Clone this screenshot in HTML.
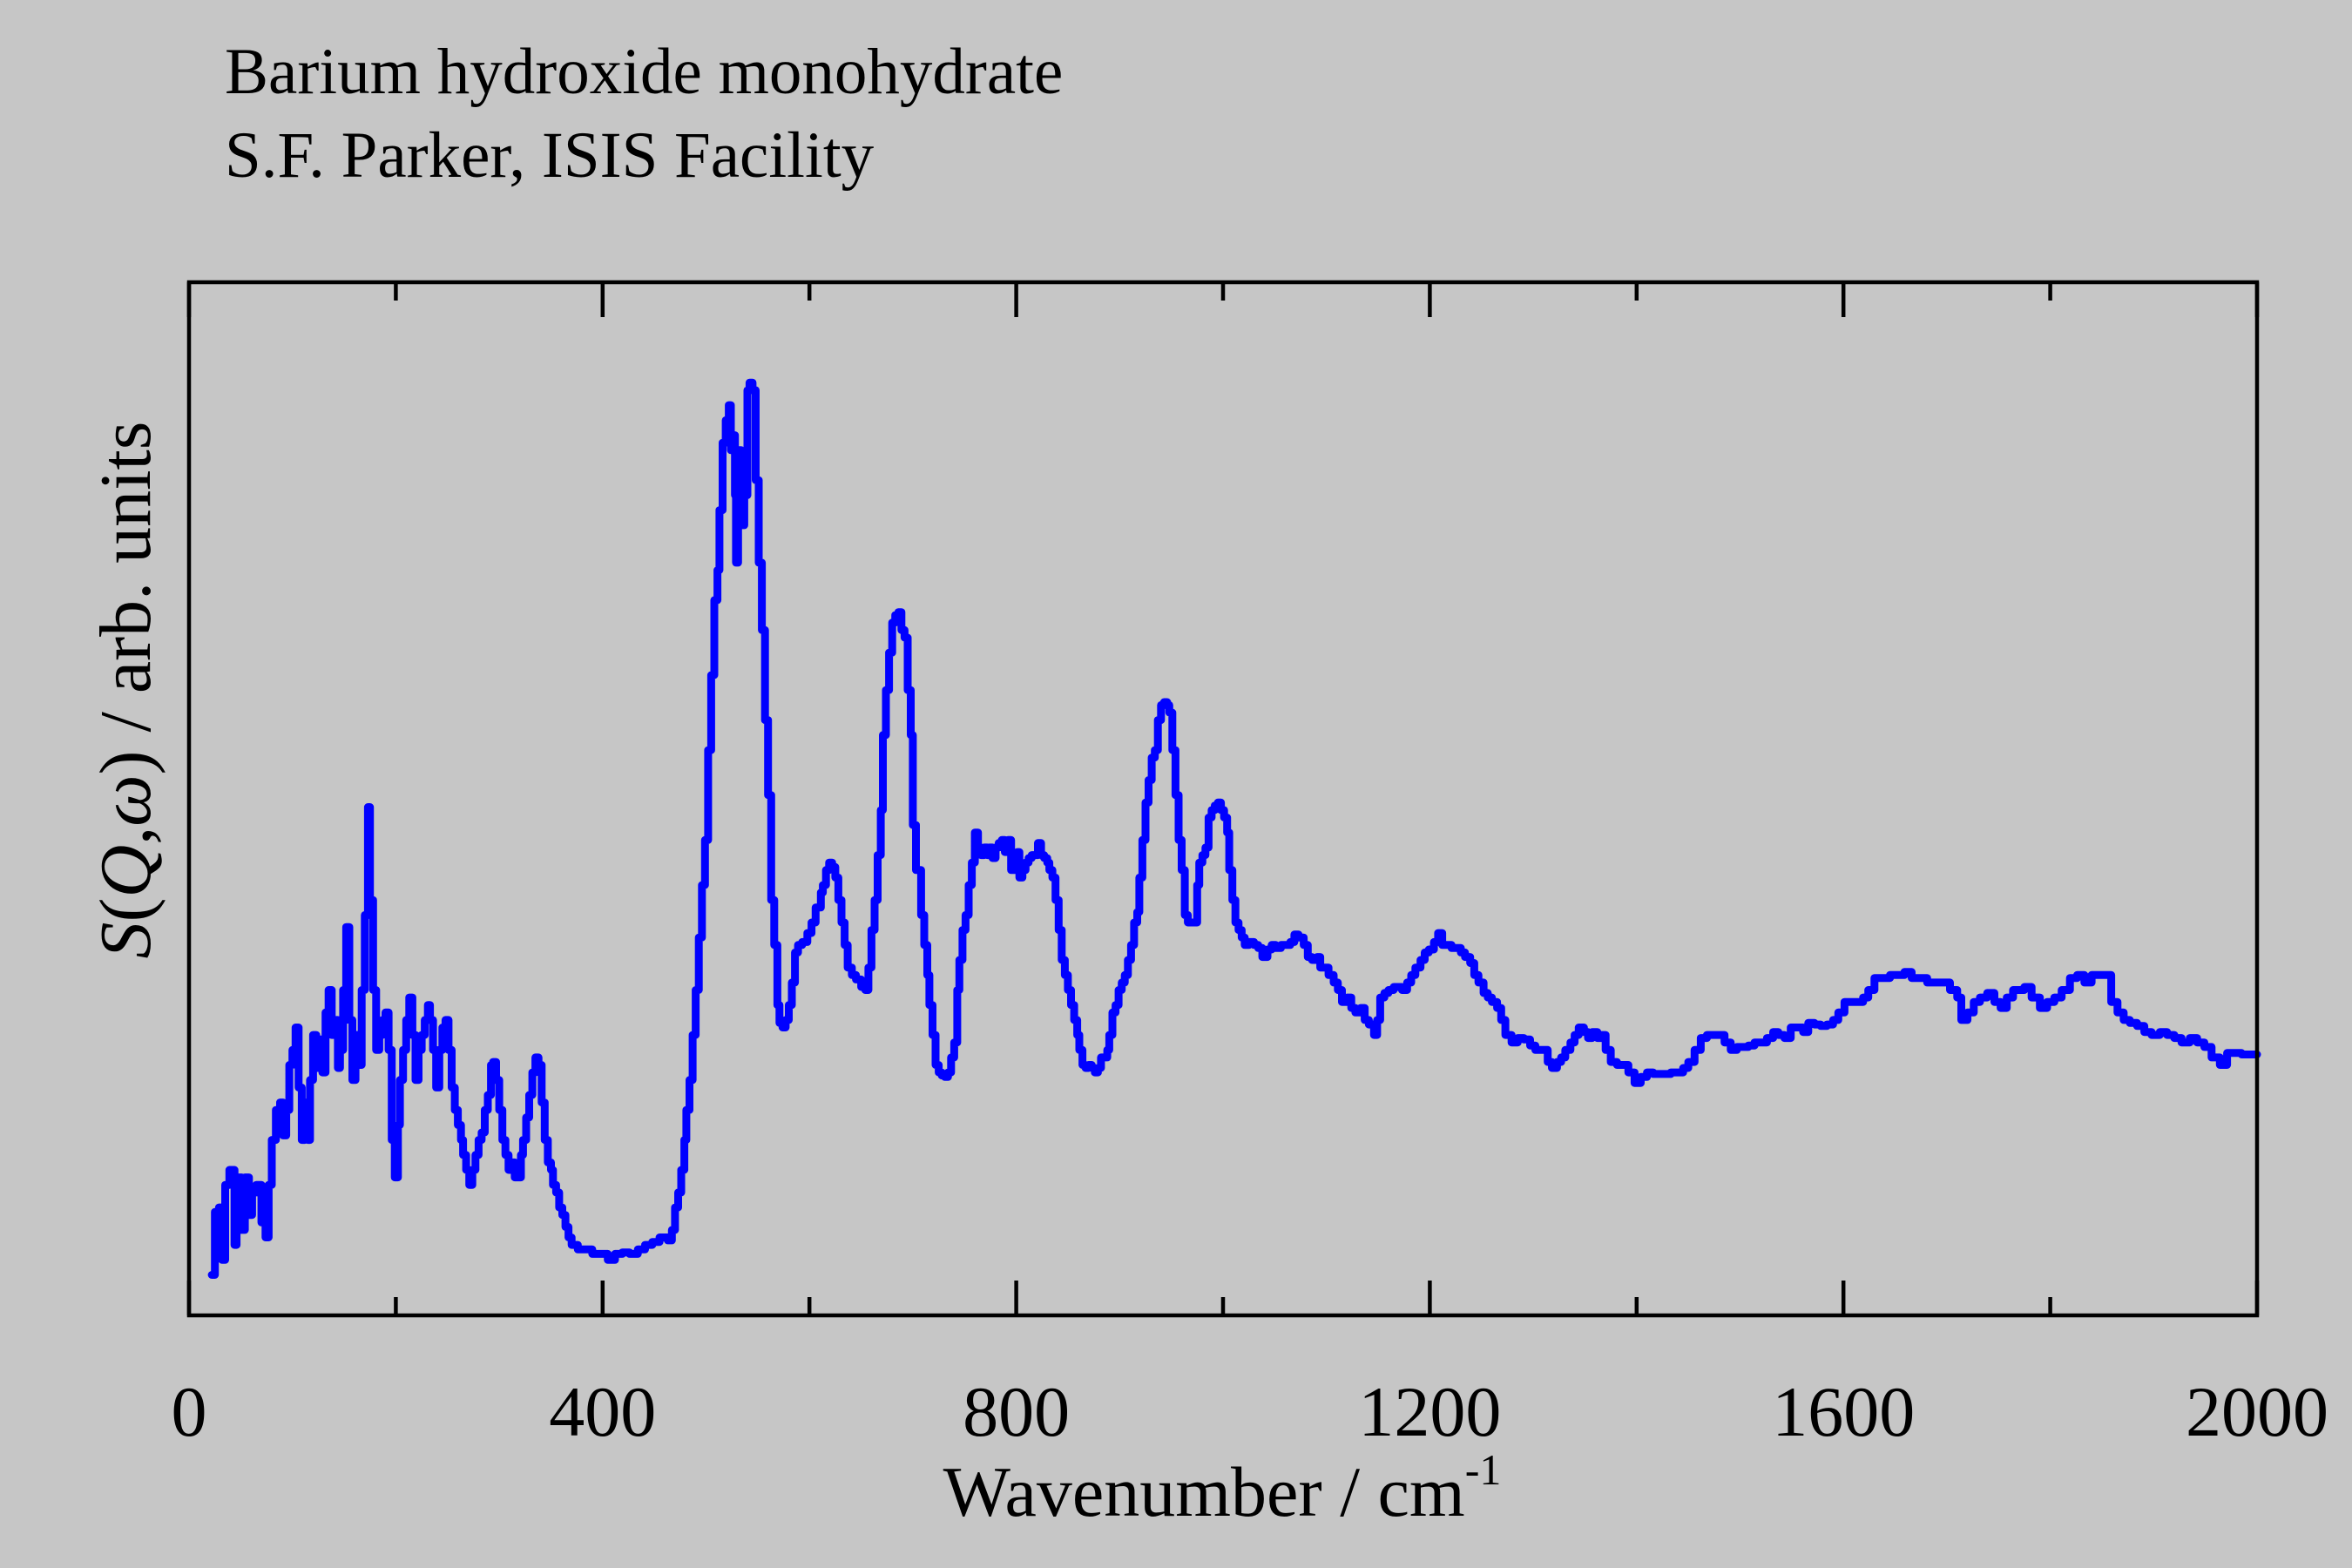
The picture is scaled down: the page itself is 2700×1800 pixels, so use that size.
<!DOCTYPE html>
<html><head><meta charset="utf-8"><style>
html,body{margin:0;padding:0;background:#c6c6c6;}
svg{display:block;font-family:"Liberation Serif","Times New Roman",serif;}
</style></head><body>
<svg id="chart" width="2700" height="1800" viewBox="0 0 2700 1800" xmlns="http://www.w3.org/2000/svg">
<rect x="0" y="0" width="2700" height="1800" fill="#c6c6c6"/>
<text x="258" y="107" font-size="75" fill="#000">Barium hydroxide monohydrate</text>
<text x="258" y="203" font-size="75" fill="#000">S.F. Parker, ISIS Facility</text>
<g id="ticks"></g>
<g id="xlabels"></g>
<path id="series" fill="none" stroke="#0000ff" stroke-width="9" stroke-linejoin="round" stroke-linecap="round"/>
<rect x="217" y="324" width="2374" height="1186" fill="none" stroke="#000" stroke-width="4.5"/>
<text x="1403" y="1740" font-size="82" text-anchor="middle" fill="#000">Wavenumber / cm<tspan font-size="50" dy="-36">-1</tspan></text>
<text transform="translate(172,792) rotate(-90)" font-size="84" text-anchor="middle" fill="#000"><tspan font-style="italic">S</tspan>(<tspan font-style="italic">Q</tspan>,<tspan font-style="italic">ω</tspan>) / arb. units</text>
</svg>
<script>
const xTicks = [0,400,800,1200,1600,2000];
const xMinorTicks = [200,600,1000,1400,1800];
const wavenumber = [22,25,29,32,35,39,44,46,51,54,58,61,65,70,74,77,80,84,88,91,94,97,100,103,106,109,112,115,117,120,123,126,129,132,135,138,141,144,146,149,152,155,158,161,164,167,170,173,175,178,181,184,187,190,193,196,199,202,204,207,210,213,216,219,222,225,228,231,233,236,239,242,245,248,251,254,257,260,263,265,268,271,274,277,280,283,286,289,292,294,297,300,303,306,309,312,315,318,321,323,326,329,332,335,338,341,344,347,350,352,355,358,361,364,367,370,376,383,390,397,405,412,419,426,434,441,448,455,463,467,470,473,476,479,481,484,487,490,493,496,499,502,505,508,511,513,516,519,522,524,525,528,529,531,534,537,540,542,545,548,551,554,557,560,563,566,569,571,574,577,580,583,586,589,593,598,602,606,611,613,616,619,622,625,628,631,634,637,641,645,650,654,657,660,663,666,669,671,674,677,680,683,686,689,692,695,698,700,703,708,711,714,716,719,722,725,728,731,734,737,740,743,745,748,751,754,757,760,763,766,769,772,774,777,780,783,786,789,792,795,798,801,803,806,809,812,815,818,821,824,827,830,832,835,838,841,844,847,850,853,856,859,861,864,867,870,873,876,879,882,885,888,890,893,896,899,902,905,908,911,914,917,919,922,925,928,931,934,937,940,943,946,948,951,954,957,960,963,966,969,972,975,977,980,983,986,989,992,995,998,1001,1004,1006,1009,1012,1015,1018,1021,1025,1030,1034,1038,1043,1047,1051,1056,1060,1065,1069,1073,1078,1082,1086,1091,1094,1098,1102,1107,1111,1115,1120,1124,1128,1133,1137,1141,1146,1149,1152,1156,1160,1165,1169,1173,1178,1182,1186,1191,1195,1199,1204,1208,1212,1217,1221,1225,1230,1234,1239,1243,1247,1252,1256,1260,1265,1269,1273,1279,1285,1291,1297,1302,1308,1314,1318,1323,1327,1331,1336,1340,1344,1349,1353,1357,1362,1366,1370,1375,1381,1386,1392,1398,1404,1410,1416,1421,1427,1433,1439,1445,1450,1456,1462,1468,1474,1479,1485,1491,1497,1503,1508,1514,1520,1526,1532,1537,1543,1549,1555,1561,1566,1572,1578,1584,1590,1595,1601,1607,1613,1619,1624,1630,1637,1645,1652,1659,1666,1674,1681,1688,1695,1703,1710,1714,1720,1726,1732,1739,1746,1752,1758,1764,1769,1775,1782,1790,1797,1804,1811,1819,1826,1833,1840,1848,1855,1859,1865,1871,1877,1884,1891,1898,1906,1913,1920,1927,1935,1942,1949,1956,1964,1971,1978,1985,1993,2000];
const intensity = [27,69,72,37,87,97,47,92,57,92,67,82,87,62,52,87,117,137,142,120,137,167,177,192,152,117,142,117,157,187,165,184,162,202,217,187,197,165,177,217,259,197,157,187,167,217,267,339,277,217,177,187,197,202,177,117,92,127,157,177,197,212,187,157,177,187,197,207,197,177,152,177,192,197,177,152,137,127,117,107,97,87,97,107,117,122,137,147,167,169,157,137,117,107,97,102,92,92,107,117,132,147,162,172,167,142,117,102,97,87,82,72,67,59,52,47,44,44,41,41,37,41,42,41,44,47,49,52,50,57,72,82,97,117,137,157,187,217,252,287,317,377,427,477,497,537,582,597,607,577,587,547,502,577,527,547,617,622,617,557,502,457,397,347,277,247,207,195,192,197,207,222,242,247,249,255,262,272,282,287,297,302,299,292,277,262,247,232,227,224,219,217,232,257,277,307,337,387,417,442,462,467,469,457,452,417,387,327,297,267,247,227,207,187,167,162,160,159,162,172,182,217,237,257,267,287,302,322,312,307,312,307,312,305,312,315,317,309,317,297,302,309,292,297,302,305,307,307,315,307,305,302,297,292,277,257,237,227,217,207,197,187,177,167,165,167,165,162,165,172,172,177,187,202,207,217,222,227,237,247,262,269,292,317,342,357,372,377,397,407,409,407,402,377,347,317,297,267,262,262,262,287,302,307,312,332,337,340,342,337,332,322,297,277,262,257,252,247,249,247,245,239,244,247,245,247,247,249,254,252,247,239,237,239,232,232,227,222,217,209,212,205,202,205,197,194,187,197,212,215,217,219,219,217,222,227,232,237,242,244,249,255,247,247,245,245,242,239,235,227,222,215,212,209,205,197,187,182,185,184,180,177,177,169,165,169,172,177,182,187,192,189,185,189,185,187,177,169,167,167,162,155,159,162,161,161,161,162,162,165,169,177,185,187,187,187,182,177,179,179,180,182,182,185,189,187,185,192,192,189,195,194,193,194,197,202,209,209,209,212,217,225,225,227,227,229,225,225,222,222,222,217,212,197,202,209,212,215,209,205,212,217,217,219,212,205,209,212,217,225,227,222,227,227,227,209,202,197,195,193,189,187,189,187,185,182,185,182,179,172,167,175,175,174,174,174];

const L=217,R=2591,T=324,B=1510;
const xMin=0,xMax=2000,yMin=0,yMax=689;
function xs(v){return L+(v-xMin)/(xMax-xMin)*(R-L);}
function ys(v){return B-(v-yMin)/(yMax-yMin)*(B-T);}
const NS="http://www.w3.org/2000/svg";
const tg=document.getElementById('ticks');
const lg=document.getElementById('xlabels');
function tick(x,y1,y2,name){
  const l=document.createElementNS(NS,'line');
  l.setAttribute('x1',x);l.setAttribute('x2',x);l.setAttribute('y1',y1);l.setAttribute('y2',y2);
  l.setAttribute('stroke','#000');l.setAttribute('stroke-width','4.5');
  
  
  tg.appendChild(l);
}
xTicks.forEach(v=>{
  const x=xs(v);
  tick(x,B,B-40,'x-major-tick');
  tick(x,T,T+40,'x-major-tick-top');
  const t=document.createElementNS(NS,'text');
  t.setAttribute('x',x);t.setAttribute('y',1648);
  t.setAttribute('font-size','82');t.setAttribute('text-anchor','middle');
  t.textContent=v;
  
  
  lg.appendChild(t);
});
xMinorTicks.forEach(v=>{
  const x=xs(v);
  tick(x,B,B-21,'x-minor-tick');
  tick(x,T,T+21,'x-minor-tick-top');
});
const n=Math.min(wavenumber.length,intensity.length);
let d='M'+xs(wavenumber[0]).toFixed(1)+','+ys(intensity[0]).toFixed(1);
for(let i=1;i<n;i++){
  d+='H'+xs(wavenumber[i]).toFixed(1)+'V'+ys(intensity[i]).toFixed(1);
}
document.getElementById('series').setAttribute('d',d);
</script>
</body></html>
